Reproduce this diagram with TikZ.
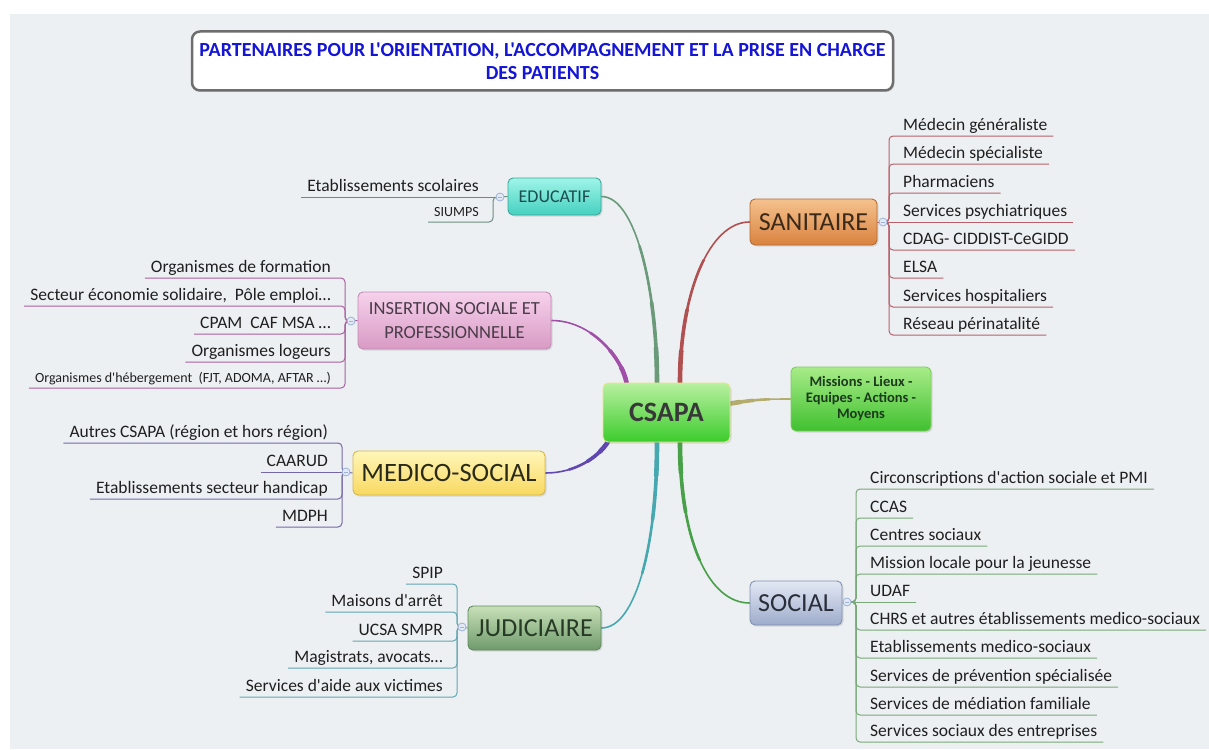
\documentclass[tikz,border=0pt]{standalone}
\usepackage{fontspec}
\setmainfont[Ligatures=TeXOff]{Carlito}
\usetikzlibrary{shadows,calc}
\pgfdeclarelayer{bgpaper}
\pgfdeclarelayer{conns}
\pgfsetlayers{bgpaper,conns,main}

\definecolor{paper}{HTML}{EDF0F3}
\definecolor{titleblue}{HTML}{1515D5}
\definecolor{educL}{HTML}{6B8E7C}
\definecolor{insL}{HTML}{A8609C}
\definecolor{medL}{HTML}{7468A8}
\definecolor{judL}{HTML}{62A6B0}
\definecolor{sanL}{HTML}{B8606A}
\definecolor{socL}{HTML}{78A878}
\definecolor{educC}{HTML}{6A9A7A}
\definecolor{sanC}{HTML}{B05050}
\definecolor{insC}{HTML}{A050A8}
\definecolor{medC}{HTML}{6048B0}
\definecolor{judC}{HTML}{48A8B0}
\definecolor{socC}{HTML}{48A048}
\definecolor{misC}{HTML}{B4AC6C}
\definecolor{circD}{HTML}{9DB2D6}
\definecolor{circF}{HTML}{E3EAF6}
% node colours
\definecolor{csaT}{HTML}{B8F0A0}\definecolor{csaB}{HTML}{3CCC2C}\definecolor{csaD}{HTML}{E8E68A}\definecolor{csaX}{HTML}{383838}
\definecolor{misT}{HTML}{A8EC88}\definecolor{misB}{HTML}{40C030}\definecolor{misD}{HTML}{80CC60}\definecolor{misX}{HTML}{1C3A1C}
\definecolor{eduT}{HTML}{9FF5E8}\definecolor{eduB}{HTML}{45D0C0}\definecolor{eduD}{HTML}{3AA89A}\definecolor{eduX}{HTML}{1A4C50}
\definecolor{sanT}{HTML}{F5C28E}\definecolor{sanB}{HTML}{D9823E}\definecolor{sanD}{HTML}{B86A30}\definecolor{sanX}{HTML}{3B2A1A}
\definecolor{insT}{HTML}{F6D2EC}\definecolor{insB}{HTML}{D89AC4}\definecolor{insD}{HTML}{C48AB4}\definecolor{insX}{HTML}{4A3C48}
\definecolor{medT}{HTML}{FFF6B8}\definecolor{medB}{HTML}{F8D860}\definecolor{medD}{HTML}{D8B848}\definecolor{medX}{HTML}{2A2A1A}
\definecolor{judT}{HTML}{C8E0B8}\definecolor{judB}{HTML}{6F9A6C}\definecolor{judD}{HTML}{5E8A5C}\definecolor{judX}{HTML}{263A26}
\definecolor{socT}{HTML}{E2E8F4}\definecolor{socB}{HTML}{9EACCB}\definecolor{socD}{HTML}{8090B0}\definecolor{socX}{HTML}{2A2E3A}

\newcommand\smallf{\fontsize{14}{16}\selectfont}

\tikzset{
  branch/.style={draw, rounded corners=5pt, inner sep=0pt, align=center, line width=0.9pt,
    drop shadow={shadow xshift=1.5pt, shadow yshift=-1.5pt, opacity=0.22}},
  leafline/.style={line width=1pt, rounded corners=4pt},
  leafl/.style={anchor=south east, inner xsep=6pt, inner ysep=3.5pt,
    text height=0.72em, text depth=0.22em, font=\fontsize{17.5}{20}\selectfont, text=black!88},
  leafr/.style={anchor=south west, inner xsep=6pt, inner ysep=3.5pt,
    text height=0.72em, text depth=0.22em, font=\fontsize{17.5}{20}\selectfont, text=black!88},
  circ/.style={circle, draw=circD, fill=circF, minimum size=8pt, inner sep=0pt, line width=0.8pt,
    path picture={\draw[circD, line width=0.6pt]
      ([xshift=-2pt]path picture bounding box.center) -- ([xshift=2pt]path picture bounding box.center);}}
}

% left leaf with bracket: name, bx, y, yc, circle, colour, text
\newcommand\leafL[7]{%
  \node[leafl] (#1) at (#2-8,#3) {#7};
  \begin{pgfonlayer}{conns}\draw[leafline,#6] (#1.south west) -- (#2,#3) -- (#2,#4) -- (#5.center);\end{pgfonlayer}}
% left leaf on centre line: name, bx, y, circle, colour, text
\newcommand\leafLc[6]{%
  \node[leafl] (#1) at (#2-8,#3) {#6};
  \begin{pgfonlayer}{conns}\draw[leafline,#5] (#1.south west) -- (#4.center);\end{pgfonlayer}}
\newcommand\leafR[7]{%
  \node[leafr] (#1) at (#2+8,#3) {#7};
  \begin{pgfonlayer}{conns}\draw[leafline,#6] (#1.south east) -- (#2,#3) -- (#2,#4) -- (#5.center);\end{pgfonlayer}}
\newcommand\leafRc[6]{%
  \node[leafr] (#1) at (#2+8,#3) {#6};
  \begin{pgfonlayer}{conns}\draw[leafline,#5] (#1.south east) -- (#4.center);\end{pgfonlayer}}

% tapered connector: colour, approx length, path
\newcommand\conn[3]{%
  \begin{pgfonlayer}{conns}
  \foreach \w/\f in {1.6/10,2.6/0.6,3.6/0.35,4.6/0.15}{%
    \pgfmathsetmacro\dl{\f*#2}%
    \draw[#1, line width=\w pt, line cap=round, dash pattern=on \dl pt off 5000pt] #3;}
  \end{pgfonlayer}}

\begin{document}
\begin{tikzpicture}[x=1pt,y=-1pt]
\useasboundingbox (0,0) rectangle (1209,749);
\begin{pgfonlayer}{bgpaper}
  \fill[white] (0,0) rectangle (1209,749);
  \fill[paper] (10,14) rectangle (1209,749);
\end{pgfonlayer}

% title
\node[draw=black!57, line width=2.5pt, rounded corners=8pt, fill=white, inner sep=0pt,
  minimum width=701pt, minimum height=59pt, align=center, text=titleblue,
  font=\fontsize{20}{23}\selectfont\bfseries,
  drop shadow={shadow xshift=1.5pt, shadow yshift=-1.5pt, opacity=0.18}] (title) at (542.5,61)
  {PARTENAIRES POUR L'ORIENTATION, L'ACCOMPAGNEMENT ET LA PRISE EN CHARGE\\DES PATIENTS};

% central and branch nodes
\node[branch, draw=csaD, top color=csaT, bottom color=csaB, minimum width=127pt, minimum height=59pt,
  font=\fontsize{28}{30}\selectfont\bfseries, text=csaX] (csapa) at (666.5,412.5) {CSAPA};
\node[branch, draw=misD, top color=misT, bottom color=misB, minimum width=140pt, minimum height=64pt,
  font=\fontsize{14.5}{16}\selectfont\bfseries, text=misX] (mis) at (861,399) {Missions - Lieux -\\Equipes - Actions -\\Moyens};
\node[branch, draw=eduD, top color=eduT, bottom color=eduB, minimum width=93pt, minimum height=37pt,
  font=\fontsize{18}{20}\selectfont, text=eduX] (educ) at (554.5,196.5) {EDUCATIF};
\node[branch, draw=sanD, top color=sanT, bottom color=sanB, minimum width=127pt, minimum height=46pt,
  font=\fontsize{26}{30}\selectfont, text=sanX] (sanit) at (813.5,222) {SANITAIRE};
\node[branch, draw=insD, top color=insT, bottom color=insB, minimum width=193pt, minimum height=57pt,
  font=\fontsize{18.5}{24}\selectfont, text=insX] (insert) at (454.5,320.5) {INSERTION SOCIALE ET\\PROFESSIONNELLE};
\node[branch, draw=medD, top color=medT, bottom color=medB, minimum width=192pt, minimum height=44pt,
  font=\fontsize{26.5}{30}\selectfont, text=medX] (medico) at (449,473) {MEDICO-SOCIAL};
\node[branch, draw=judD, top color=judT, bottom color=judB, minimum width=133pt, minimum height=44pt,
  font=\fontsize{26}{30}\selectfont, text=judX] (judic) at (534.5,628) {JUDICIAIRE};
\node[branch, draw=socD, top color=socT, bottom color=socB, minimum width=92pt, minimum height=44pt,
  font=\fontsize{26}{30}\selectfont, text=socX] (social) at (796,603) {SOCIAL};

% main connectors
\conn{educC}{230}{([xshift=-9.5pt]csapa.north) .. controls +(0,-90) and +(35,0) .. (educ.east)}
\conn{sanC}{210}{([xshift=13.5pt]csapa.north) .. controls +(0,-90) and +(-40,0) .. (sanit.west)}
\conn{insC}{105}{([xshift=24pt]csapa.north west) .. controls +(-5,-25) and +(40,0) .. (insert.east)}
\conn{medC}{80}{([xshift=5pt]csapa.south west) .. controls +(-10,15) and +(30,0) .. (medico.east)}
\conn{judC}{220}{([xshift=-9.5pt]csapa.south) .. controls +(0,100) and +(35,0) .. (judic.east)}
\conn{socC}{200}{([xshift=13.5pt]csapa.south) .. controls +(0,100) and +(-40,0) .. (social.west)}
\conn{misC}{65}{([yshift=9pt]csapa.east) .. controls +(25,-4) and +(-25,0) .. (mis.west)}

% collapse markers
\node[circ] (ec) at (500,197) {};
\node[circ] (ic) at (351,321) {};
\node[circ] (mc) at (346,472) {};
\node[circ] (jc) at (462,627) {};
\node[circ] (sc) at (883,222) {};
\node[circ] (oc) at (847,602) {};
\begin{pgfonlayer}{conns}
  \draw[leafline,educL] (educ.west) -- (ec.center);
  \draw[leafline,insL] (insert.west) -- (ic.center);
  \draw[leafline,medL] (medico.west) -- (mc.center);
  \draw[leafline,judL] (judic.west) -- (jc.center);
  \draw[leafline,sanL] (sanit.east) -- (sc.center);
  \draw[leafline,socL] (social.east) -- (oc.center);
\end{pgfonlayer}

% EDUCATIF
\leafLc{e1}{493}{197}{ec}{educL}{Etablissements scolaires}
\leafL{e2}{493}{222}{197}{ec}{educL}{\smallf SIUMPS}

% INSERTION
\leafL{i1}{345}{278}{321}{ic}{insL}{Organismes de formation}
\leafL{i2}{345}{306}{321}{ic}{insL}{Secteur économie solidaire,\ \ Pôle emploi…}
\leafL{i3}{345}{334}{321}{ic}{insL}{CPAM\ \ CAF MSA …}
\leafL{i4}{345}{362}{321}{ic}{insL}{Organismes logeurs}
\leafL{i5}{345}{388}{321}{ic}{insL}{\smallf Organismes d'hébergement\ \ (FJT, ADOMA, AFTAR …)}

% MEDICO-SOCIAL
\leafL{m1}{342}{443}{472}{mc}{medL}{Autres CSAPA (région et hors région)}
\leafLc{m2}{342}{472}{mc}{medL}{CAARUD}
\leafL{m3}{342}{499}{472}{mc}{medL}{Etablissements secteur handicap}
\leafL{m4}{342}{527}{472}{mc}{medL}{MDPH}

% JUDICIAIRE
\leafL{j1}{457}{584}{627}{jc}{judL}{SPIP}
\leafL{j2}{457}{612}{627}{jc}{judL}{Maisons d'arrêt}
\leafL{j3}{457}{641}{627}{jc}{judL}{UCSA SMPR}
\leafL{j4}{457}{668}{627}{jc}{judL}{Magistrats, avocats…}
\leafL{j5}{457}{697}{627}{jc}{judL}{Services d'aide aux victimes}

% SANITAIRE
\leafR{s1}{889}{136}{222}{sc}{sanL}{Médecin généraliste}
\leafR{s2}{889}{164}{222}{sc}{sanL}{Médecin spécialiste}
\leafR{s3}{889}{193}{222}{sc}{sanL}{Pharmaciens}
\leafRc{s4}{889}{222}{sc}{sanL}{Services psychiatriques}
\leafR{s5}{889}{250}{222}{sc}{sanL}{CDAG- CIDDIST-CeGIDD}
\leafR{s6}{889}{278}{222}{sc}{sanL}{ELSA}
\leafR{s7}{889}{307}{222}{sc}{sanL}{Services hospitaliers}
\leafR{s8}{889}{335}{222}{sc}{sanL}{Réseau périnatalité}

% SOCIAL
\leafR{o1}{856}{489}{602}{oc}{socL}{Circonscriptions d'action sociale et PMI}
\leafR{o2}{856}{518}{602}{oc}{socL}{CCAS}
\leafR{o3}{856}{546}{602}{oc}{socL}{Centres sociaux}
\leafR{o4}{856}{574}{602}{oc}{socL}{Mission locale pour la jeunesse}
\leafRc{o5}{856}{602}{oc}{socL}{UDAF}
\leafR{o6}{856}{630}{602}{oc}{socL}{CHRS et autres établissements medico-sociaux}
\leafR{o7}{856}{658}{602}{oc}{socL}{Etablissements medico-sociaux}
\leafR{o8}{856}{687}{602}{oc}{socL}{Services de prévention spécialisée}
\leafR{o9}{856}{715}{602}{oc}{socL}{Services de médiation familiale}
\leafR{o10}{856}{742}{602}{oc}{socL}{Services sociaux des entreprises}
\end{tikzpicture}
\end{document}
